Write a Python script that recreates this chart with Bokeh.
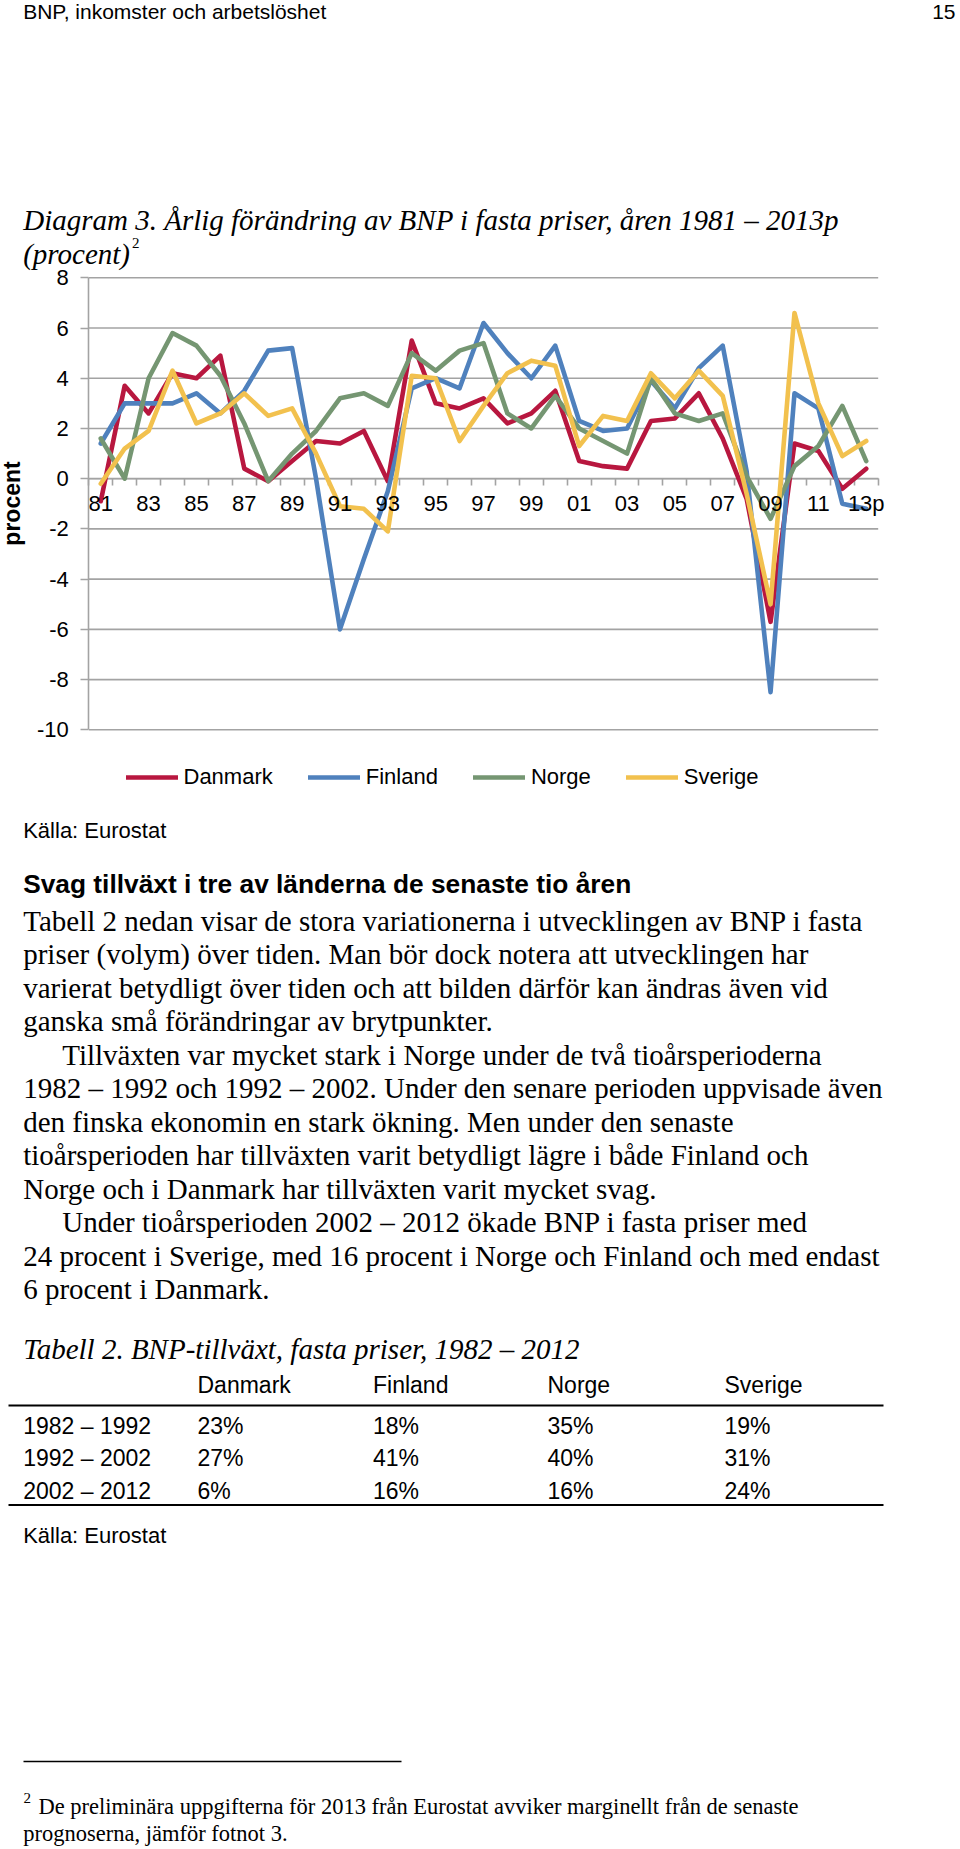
from bokeh.plotting import figure
from bokeh.models import Range1d, FixedTicker, LinearAxis
from bokeh.layouts import column
from bokeh.embed import file_html
from bokeh.resources import INLINE
from bokeh.core.properties import value

# ---------------- data ----------------
years = [1981, 1982, 1983, 1984, 1985, 1986, 1987, 1988, 1989, 1990,
         1991, 1992, 1993, 1994, 1995, 1996, 1997, 1998, 1999, 2000,
         2001, 2002, 2003, 2004, 2005, 2006, 2007, 2008, 2009, 2010,
         2011, 2012, 2013]
danmark = [-0.9, 3.7, 2.6, 4.2, 4.0, 4.9, 0.4, -0.1, 0.7, 1.5,
           1.4, 1.9, -0.1, 5.5, 3.0, 2.8, 3.2, 2.2, 2.6, 3.5,
           0.7, 0.5, 0.4, 2.3, 2.4, 3.4, 1.6, -0.8, -5.7, 1.4,
           1.1, -0.4, 0.4]
finland = [1.4, 3.0, 3.0, 3.0, 3.4, 2.6, 3.5, 5.1, 5.2, 0.0,
           -6.0, -3.2, -0.5, 3.6, 4.0, 3.6, 6.2, 5.0, 4.0, 5.3,
           2.3, 1.9, 2.0, 3.9, 2.8, 4.4, 5.3, 0.3, -8.5, 3.4,
           2.8, -1.0, -1.2]
norge = [1.6, 0.0, 4.0, 5.8, 5.3, 4.1, 2.2, -0.1, 1.0, 1.9,
         3.2, 3.4, 2.9, 5.0, 4.3, 5.1, 5.4, 2.6, 2.0, 3.3,
         2.0, 1.5, 1.0, 4.0, 2.6, 2.3, 2.6, 0.1, -1.6, 0.5,
         1.3, 2.9, 0.7]
sverige = [-0.2, 1.2, 1.9, 4.3, 2.2, 2.6, 3.4, 2.5, 2.8, 1.0,
           -1.1, -1.2, -2.1, 4.1, 4.0, 1.5, 2.9, 4.2, 4.7, 4.5,
           1.3, 2.5, 2.3, 4.2, 3.2, 4.3, 3.3, -0.6, -5.0, 6.6,
           3.0, 0.9, 1.5]
series_names = ["Danmark", "Finland", "Norge", "Sverige"]
series_values = [danmark, finland, norge, sverige]
series_colors = ["#B8173F", "#4F81BD", "#759672", "#F2C14E"]

x_label_years = [1981, 1983, 1985, 1987, 1989, 1991, 1993, 1995, 1997,
                 1999, 2001, 2003, 2005, 2007, 2009, 2011, 2013]
x_tick_labels = ["81", "83", "85", "87", "89", "91", "93", "95", "97",
                 "99", "01", "03", "05", "07", "09", "11", "13p"]
y_ticks = [-10, -8, -6, -4, -2, 0, 2, 4, 6, 8]
y_tick_labels = ["-10", "-8", "-6", "-4", "-2", "0", "2", "4", "6", "8"]

header_text = "BNP, inkomster och arbetslöshet"
page_number = "15"
title_line1 = "Diagram 3. Årlig förändring av BNP i fasta priser, åren 1981 – 2013p"
title_line2 = "(procent)"
y_label = "procent"
source_text = "Källa: Eurostat"
heading = "Svag tillväxt i tre av länderna de senaste tio åren"
body_lines = [
    "Tabell 2 nedan visar de stora variationerna i utvecklingen av BNP i fasta",
    "priser (volym) över tiden. Man bör dock notera att utvecklingen har",
    "varierat betydligt över tiden och att bilden därför kan ändras även vid",
    "ganska små förändringar av brytpunkter.",
    "Tillväxten var mycket stark i Norge under de två tioårsperioderna",
    "1982 – 1992 och 1992 – 2002. Under den senare perioden uppvisade även",
    "den finska ekonomin en stark ökning. Men under den senaste",
    "tioårsperioden har tillväxten varit betydligt lägre i både Finland och",
    "Norge och i Danmark har tillväxten varit mycket svag.",
    "Under tioårsperioden 2002 – 2012 ökade BNP i fasta priser med",
    "24 procent i Sverige, med 16 procent i Norge och Finland och med endast",
    "6 procent i Danmark.",
]
body_indent = [False, False, False, False, True, False, False, False, False,
               True, False, False]
table_caption = "Tabell 2. BNP-tillväxt, fasta priser, 1982 – 2012"
table_columns = ["Danmark", "Finland", "Norge", "Sverige"]
table_periods = ["1982 – 1992", "1992 – 2002", "2002 – 2012"]
table_danmark = ["23%", "27%", "6%"]
table_finland = ["18%", "41%", "16%"]
table_norge = ["35%", "40%", "16%"]
table_sverige = ["19%", "31%", "24%"]
footnote_lines = [
    "De preliminära uppgifterna för 2013 från Eurostat avviker marginellt från de senaste",
    "prognoserna, jämför fotnot 3.",
]

# ---------------- helpers ----------------
W = 960
SANS = "Liberation Sans"
SERIF = "Liberation Serif"
GRID = "#A3A3A3"


def text_fig(top, bottom):
    p = figure(width=W, height=bottom - top, x_range=Range1d(0, W),
               y_range=Range1d(bottom, top), output_backend="svg",
               toolbar_location=None, tools="", x_axis_location=None,
               y_axis_location=None, min_border=0)
    p.outline_line_color = None
    p.grid.visible = False
    return p


def put(p, x, y, s, font=SERIF, size=28.8, style="normal", align="left"):
    p.text(x=[x], y=[y], text=[s], text_font=value(font),
           text_font_size=f"{size}px", text_font_style=style,
           text_align=align, text_baseline="alphabetic", text_color="black")


# ---------------- header ----------------
f1 = text_fig(0, 170)
put(f1, 22.7, 11, header_text, font=SANS, size=21)
put(f1, 955, 11, page_number, font=SANS, size=21, align="right")

# ---------------- chart (incl. caption) ----------------
CH_TOP, CH_BOT = 170, 800          # figure extent on the page
FR_L, FR_R = 88.3, 877.7           # x of first / last category boundary
FR_T, FR_B = 277.3, 729.3          # y of 8 and -10
XA, XB = years[0] - 0.5, years[-1] + 0.5
YA, YB = y_ticks[0], y_ticks[-1]
kx = (FR_R - FR_L) / (XB - XA)
ky = (FR_B - FR_T) / (YB - YA)
x_start = XA - FR_L / kx
x_end = x_start + W / kx
y_end = YB + (FR_T - CH_TOP) / ky
y_start = YA - (CH_BOT - FR_B) / ky

p = figure(width=W, height=CH_BOT - CH_TOP, x_range=Range1d(x_start, x_end),
           y_range=Range1d(y_start, y_end), output_backend="svg",
           toolbar_location=None, tools="", x_axis_location=None,
           y_axis_location=None, min_border=0)
p.outline_line_color = None
p.grid.visible = False


def put_c(px, py, s, size, style="normal", font=SERIF):
    # caption text placed in page pixels, converted to this figure's data space
    p.text(x=[x_start + px / kx], y=[y_end - (py - CH_TOP) / ky], text=[s],
           text_font=value(font), text_font_size=f"{size}px",
           text_font_style=style, text_align="left",
           text_baseline="alphabetic", text_color="black")


put_c(22.7, 219, title_line1, 29, "italic")
put_c(22.7, 253, title_line2, 29, "italic")
put_c(131.5, 242, "2", 15)

# horizontal gridlines over the category span
p.segment(x0=[XA] * len(y_ticks), x1=[XB] * len(y_ticks), y0=y_ticks, y1=y_ticks,
          line_color=GRID, line_width=1.6, level="underlay")

ya = LinearAxis(ticker=FixedTicker(ticks=y_ticks), fixed_location=XA,
                bounds=(YA, YB), axis_line_color=GRID, axis_line_width=1.6,
                major_tick_line_color=GRID, major_tick_line_width=1.6,
                major_tick_out=8, major_tick_in=0, minor_tick_line_color=None,
                major_label_overrides=dict(zip(y_ticks, y_tick_labels)),
                major_label_standoff=12, major_label_text_font=SANS,
                major_label_text_font_size="22px", major_label_text_color="black",
                axis_label=y_label, axis_label_text_font=SANS,
                axis_label_text_font_style="bold", axis_label_text_font_size="23px",
                axis_label_text_color="black", axis_label_standoff=9)
p.add_layout(ya, "left")

boundaries = [y - 0.5 for y in years] + [years[-1] + 0.5]
ax_t = LinearAxis(ticker=FixedTicker(ticks=boundaries), fixed_location=0,
                  bounds=(XA, XB), level="underlay", axis_line_color=GRID,
                  axis_line_width=1.6, major_tick_line_color=GRID,
                  major_tick_line_width=1.6, major_tick_out=7, major_tick_in=0,
                  minor_tick_line_color=None,
                  major_label_overrides={b: "" for b in boundaries},
                  major_label_text_font_size="1px")
ax_l = LinearAxis(ticker=FixedTicker(ticks=x_label_years), fixed_location=0,
                  bounds=(XA, XB), axis_line_color=None, major_tick_line_color=None,
                  major_tick_out=0, major_tick_in=0, minor_tick_line_color=None,
                  major_label_overrides=dict(zip(x_label_years, x_tick_labels)),
                  major_label_standoff=12, major_label_text_font=SANS,
                  major_label_text_font_size="22px",
                  major_label_text_color="black")
p.add_layout(ax_t, "below")
p.add_layout(ax_l, "below")

for name, vals, col in zip(series_names, series_values, series_colors):
    p.line(years, vals, line_color=col, line_width=4.6, line_join="round",
           line_cap="round", legend_label=name)

lg = p.legend[0]
lg.orientation = "horizontal"
lg.location = (125.5, 10)
lg.border_line_color = None
lg.background_fill_alpha = 0
lg.padding = 0
lg.margin = 0
lg.spacing = 35
lg.glyph_width = 52
lg.glyph_height = 24
lg.label_height = 24
lg.label_standoff = 6
lg.label_text_font = SANS
lg.label_text_font_size = "22px"
lg.label_text_color = "black"

# ---------------- bottom text ----------------
f3 = text_fig(800, 1849)
put(f3, 22.7, 830, source_text, font=SANS, size=22)
put(f3, 22.7, 883, heading, font=SANS, size=26.3, style="bold")
for i, (line, ind) in enumerate(zip(body_lines, body_indent)):
    put(f3, 61.7 if ind else 22.7, 920 + 33.5 * i, line, size=29)

put(f3, 22.7, 1348, table_caption, size=29, style="italic")
col_x = [197, 372.5, 547, 724]
for cx, cname in zip(col_x, table_columns):
    put(f3, cx, 1384, cname, font=SANS, size=23)
f3.segment(x0=[8, 8], y0=[1405, 1504.5], x1=[883, 883], y1=[1405, 1504.5],
           line_color="black", line_width=2)
row_y = [1425, 1457.5, 1490]
for r, period in enumerate(table_periods):
    put(f3, 22.7, row_y[r], period, font=SANS, size=23)
    for cx, vals in zip(col_x, [table_danmark, table_finland, table_norge, table_sverige]):
        put(f3, cx, row_y[r], vals[r], font=SANS, size=23)
put(f3, 22.7, 1534.5, source_text, font=SANS, size=22)

f3.segment(x0=[23], y0=[1761], x1=[401], y1=[1761], line_color="black", line_width=1.6)
put(f3, 23, 1797, "2", size=15)
put(f3, 38, 1806, footnote_lines[0], size=22.5)
put(f3, 22.7, 1833, footnote_lines[1], size=22.5)

layout = column(f1, p, f3, spacing=0)
open("out.html", "w").write(file_html(layout, INLINE))
